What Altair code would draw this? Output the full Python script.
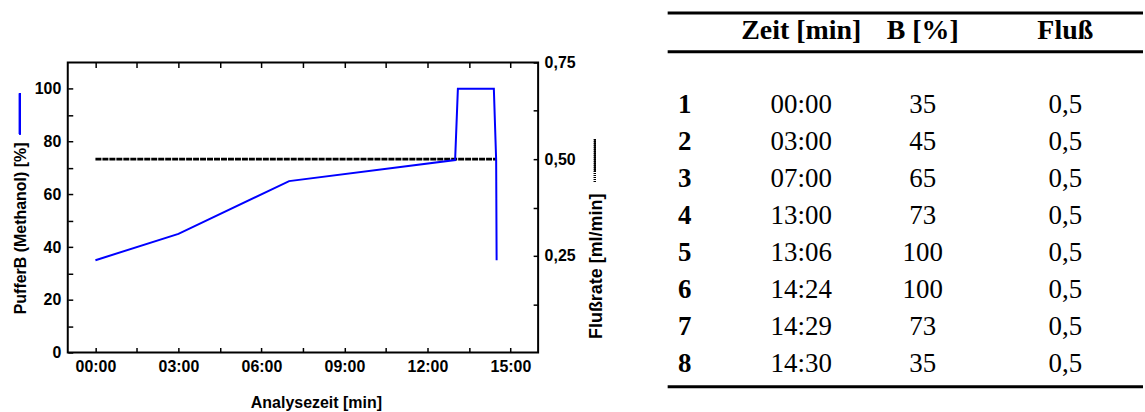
import altair as alt
import pandas as pd

# ---- gradient data ----
time_min = [0, 3, 7, 13, 13.1, 14.4, 14.4833, 14.5]
buffer_b = [35, 45, 65, 73, 100, 100, 73, 35]
flow_rate = [0.5, 0.5, 0.5, 0.5, 0.5, 0.5, 0.5, 0.5]

x_tick_values = [0, 1.5, 3, 4.5, 6, 7.5, 9, 10.5, 12, 13.5, 15]
y_tick_values = [0, 10, 20, 30, 40, 50, 60, 70, 80, 90, 100]
y2_tick_values = [0.125, 0.25, 0.375, 0.5, 0.625, 0.75]

# ---- table data ----
row_nr = ["1", "2", "3", "4", "5", "6", "7", "8"]
zeit = ["00:00", "03:00", "07:00", "13:00", "13:06", "14:24", "14:29", "14:30"]
b_pct = ["35", "45", "65", "73", "100", "100", "73", "35"]
fluss = ["0,5", "0,5", "0,5", "0,5", "0,5", "0,5", "0,5", "0,5"]
headers = ["Zeit [min]", "B [%]", "Fluß"]
table_rules = [-1.5, -0.45, 8.6]

W, H = 472, 291
SANS = "Liberation Sans"
SERIF = "Liberation Serif"

df = pd.DataFrame({"t": time_min, "b": buffer_b, "f": flow_rate})

x_scale = alt.Scale(domain=[-1, 16], nice=False, zero=False)
x_label = ("datum.value % 3 == 0 ? (datum.value < 10 ? '0' + datum.value : '' + datum.value)"
           " + ':00' : ''")

blue = alt.Chart(df).mark_line(color="#0000ff", strokeWidth=2).encode(
    x=alt.X("t:Q", scale=x_scale, axis=alt.Axis(
        orient="bottom", values=x_tick_values, labelExpr=x_label, offset=-5,
        tickSize=5, domain=False, grid=False, labelPadding=6, labelFlush=False,
        labelOverlap=False, title="Analysezeit [min]", titleX=249, titleY=55,
        titleAlign="center", titleBaseline="middle")),
    y=alt.Y("b:Q", scale=alt.Scale(domain=[0, 110], nice=False), axis=alt.Axis(
        orient="left", values=y_tick_values,
        labelExpr="datum.value % 20 == 0 ? datum.label : ''", offset=-5,
        tickSize=5, domain=False, grid=False, labelPadding=7, labelFlush=False,
        labelOverlap=False, title="PufferB (Methanol) [%]", titleAngle=270,
        titleX=-52, titleY=166, titleAlign="center", titleBaseline="middle")),
)

black = alt.Chart(df).mark_line(color="black", strokeWidth=2.6, strokeDash=[6, 1]).encode(
    x=alt.X("t:Q", scale=x_scale, axis=alt.Axis(
        orient="top", values=x_tick_values, labels=False, offset=-5, tickSize=5,
        domain=False, grid=False, title="")),
    y=alt.Y("f:Q", scale=alt.Scale(domain=[0, 0.75], nice=False), axis=alt.Axis(
        orient="right", values=y2_tick_values,
        labelExpr="(datum.value == 0.25 || datum.value == 0.5 || datum.value == 0.75) ? replace(format(datum.value, '.2f'), '.', ',') : ''",
        offset=-5, tickSize=5, domain=False, grid=False, labelPadding=6,
        labelFlush=False, labelOverlap=False, title="Flußrate [ml/min]",
        titleAngle=270, titleX=64, titleY=204, titleAlign="center",
        titleBaseline="middle", titleFontSize=18)),
)

blue_key = alt.Chart(df).mark_rule(color="#0000ff", strokeWidth=2).encode(
    x=alt.value(-48), y=alt.value(31), y2=alt.value(72))
black_key = alt.Chart(df).mark_rule(color="black", strokeWidth=2, strokeDash=[1, 1]).encode(
    x=alt.value(529), y=alt.value(77), y2=alt.value(121))

left = alt.layer(black, blue, blue_key, black_key).resolve_scale(
    y="independent").resolve_axis(x="independent", y="independent").properties(
    width=W, height=H, view=alt.ViewBackground(stroke="black", strokeWidth=2))

# ---- table ----
col_scale = alt.Scale(domain=[0, 1, 2, 3], range=[17, 134, 256, 399])
row_scale = alt.Scale(domain=[0, 8], range=[6, 303])

body_rows = []
for i in range(8):
    body_rows.append({"row": i + 1, "col": 1, "txt": zeit[i]})
    body_rows.append({"row": i + 1, "col": 2, "txt": b_pct[i]})
    body_rows.append({"row": i + 1, "col": 3, "txt": fluss[i]})
body_df = pd.DataFrame(body_rows)
nr_df = pd.DataFrame({"row": list(range(1, 9)), "col": [0] * 8, "txt": row_nr})
head_df = pd.DataFrame({"row": [-1] * 3, "col": [1, 2, 3], "txt": headers})
rule_df = pd.DataFrame({"row": table_rules})

TW = 477
t_body = alt.Chart(body_df).mark_text(font=SERIF, fontSize=27, color="black",
                                      baseline="middle", align="center").encode(
    x=alt.X("col:Q", scale=col_scale, axis=None),
    y=alt.Y("row:Q", scale=row_scale, axis=None), text="txt:N")
t_nr = alt.Chart(nr_df).mark_text(font=SERIF, fontSize=27, fontWeight="bold",
                                  color="black", baseline="middle", align="center").encode(
    x=alt.X("col:Q", scale=col_scale, axis=None),
    y=alt.Y("row:Q", scale=row_scale, axis=None), text="txt:N")
t_head = alt.Chart(head_df).mark_text(font=SERIF, fontSize=28, fontWeight="bold",
                                      color="black", baseline="middle", align="center").encode(
    x=alt.X("col:Q", scale=col_scale, axis=None),
    y=alt.Y("row:Q", scale=row_scale, axis=None), text="txt:N")
t_rules = alt.Chart(rule_df).mark_rule(color="black", strokeWidth=3).encode(
    x=alt.value(0), x2=alt.value(TW),
    y=alt.Y("row:Q", scale=row_scale, axis=None))

table = alt.layer(t_rules, t_body, t_nr, t_head).properties(
    width=TW, height=H, view=alt.ViewBackground(stroke="transparent"))

chart = alt.hconcat(left, table, spacing=130, bounds="flush").properties(
    padding={"left": 12, "top": 10, "right": 0, "bottom": 0}
).configure_view(stroke="transparent").configure_axis(
    labelFont=SANS, labelFontWeight="bold", labelFontSize=16, labelColor="black",
    titleFont=SANS, titleFontWeight="bold", titleFontSize=16, titleColor="black",
    tickColor="black", tickWidth=1.5)

chart.save("out.html", embed_options={"renderer": "svg", "actions": False})
